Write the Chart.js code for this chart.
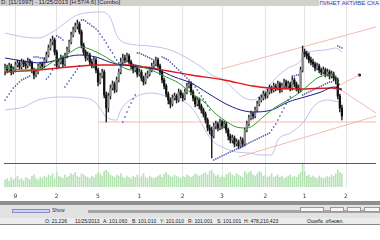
<!DOCTYPE html>
<html><head><meta charset="utf-8">
<script src="https://cdn.jsdelivr.net/npm/chart.js@4"></script>
<style>
html,body{margin:0;padding:0;background:#fff;width:380px;height:240px;overflow:hidden;font-family:"Liberation Sans",Arial,sans-serif}
#cv{position:absolute;left:0;top:0}
#hdr{position:absolute;left:0;top:0;width:380px;height:6px;background:#d4d1cb;overflow:hidden;font-size:6px;line-height:6px;white-space:nowrap}
#hdr .l{position:absolute;left:1px;top:-1px;color:#1c2040}
#hdr .r{position:absolute;right:0;top:0;height:6px;padding:0 1px;background:#f4f4fa;color:#3a46a8}
.bar{position:absolute;left:0;width:380px}
#status span{position:absolute;top:0;font-size:5px;line-height:6px;color:#222;white-space:nowrap}
.ctl{position:absolute;top:207px;height:5px;background:#f6f6f6;border:1px solid #999;box-sizing:border-box}
</style></head><body>
<canvas id="cv" width="380" height="203"></canvas>
<div id="hdr"><span class="l">D: [11/1997] - 11/25/2013 [H:57/4.6] [Combo]</span><span class="r">ПИНЕТ АКТИВЕ СХА</span></div>
<div class="bar" style="top:201px;height:4px;background:#8e8e8e"></div>
<div class="bar" style="top:205px;height:13px;background:#e2e2e2"></div>
<div style="position:absolute;left:12px;top:209px;width:38px;height:4px;background:#cfd0f4;border:1px solid #8a8cd0;box-sizing:border-box"></div>
<div style="position:absolute;left:52px;top:208px;font-size:5px;line-height:5px;color:#333">Show</div>
<div style="position:absolute;left:88px;top:210px;width:292px;height:3px;background:#a4a4a4"></div>
<div class="ctl" style="left:300px;width:24px"></div>
<div class="ctl" style="left:330px;width:14px"></div>
<div class="ctl" style="left:347px;width:14px"></div>
<div class="ctl" style="left:364px;width:16px"></div>
<div id="status" class="bar" style="top:218px;height:6px;background:#ececec;border-bottom:1px solid #888">
<span style="left:45px">O: 21.226</span><span style="left:75px">11/25/2013</span><span style="left:103px">A: 101.060</span><span style="left:132px">B: 101.010</span><span style="left:160px">Y: 101.010</span><span style="left:188px">R: 101.001</span><span style="left:217px">S: 101.001</span><span style="left:244px">H: 478,210,423</span><span style="left:307px">Ошибк. обновл.</span>
</div>
<script>
// ---- data ----
const candleOpen = [105.6,106.0,105.8,106.2,105.6,105.8,106.3,106.5,106.1,106.6,
106.4,106.2,106.7,106.5,105.8,105.3,105.6,106.2,106.4,106.2,
106.8,107.3,108.0,108.6,108.8,107.6,106.2,106.6,107.0,106.4,
107.2,107.8,108.6,109.3,109.8,110.2,110.4,109.6,108.3,107.6,
107.0,107.3,106.6,106.2,106.8,105.8,104.6,105.2,105.6,103.3,
102.0,103.2,104.0,104.4,103.8,104.8,105.6,106.6,107.0,106.8,
107.2,106.6,106.2,105.8,106.0,105.4,105.6,105.0,104.6,105.2,
105.4,105.8,106.2,106.4,106.8,106.2,105.6,104.8,104.2,103.4,
102.8,102.4,103.0,103.2,102.8,103.6,103.3,103.0,103.6,104.2,
104.4,103.6,103.0,102.4,102.8,102.2,101.8,101.4,100.8,100.0,
99.8,99.2,100.2,100.4,100.0,100.6,100.2,100.4,99.8,99.2,
98.8,99.0,98.4,98.6,98.2,98.8,98.4,99.8,100.4,101.0,
101.4,101.2,101.8,102.4,102.8,103.0,103.4,103.2,103.6,104.0,
103.8,104.2,104.0,104.4,103.8,104.2,104.6,104.2,104.4,104.0,
104.8,104.4,104.0,103.8,105.8,107.6,107.4,107.2,106.8,106.6,
106.4,106.0,106.2,105.8,105.6,105.8,105.4,105.6,105.2,105.4,
105.0,104.8,103.2,102.0];
const candleHigh = [106.4,106.3,106.5,106.4,106.1,106.6,106.8,106.7,106.9,106.8,
106.7,107.0,106.9,106.7,106.0,105.9,106.4,106.6,106.6,107.0,
107.6,108.3,108.9,109.2,109.0,107.8,106.9,107.3,107.2,107.5,
108.1,108.8,109.6,110.1,110.5,110.8,110.6,109.8,108.5,107.8,
107.6,107.5,106.9,107.1,107.0,106.0,105.5,105.9,105.8,103.6,
103.5,104.3,104.7,104.6,105.1,105.9,107.0,107.4,107.3,107.5,
107.4,106.8,106.4,106.3,106.2,105.9,105.8,105.2,105.5,105.7,
106.1,106.5,106.7,107.1,107.0,106.4,105.8,105.0,104.4,103.6,
103.0,103.3,103.5,103.4,103.9,103.8,103.5,103.9,104.5,104.7,
104.6,103.8,103.2,103.1,103.0,102.4,102.0,101.6,101.0,100.3,
100.1,100.5,100.7,100.6,100.9,100.8,100.7,100.6,100.0,99.4,
99.3,99.2,98.9,98.8,99.1,99.0,100.0,100.7,101.3,101.7,
101.6,102.1,102.7,103.1,103.3,103.7,103.6,103.9,104.3,104.2,
104.5,104.4,104.7,104.6,104.5,104.9,104.8,104.7,104.6,105.1,
105.0,104.6,104.3,106.1,108.2,107.9,107.7,107.5,107.1,106.9,
106.6,106.5,106.4,106.0,106.1,106.0,105.9,105.8,105.7,105.6,
105.2,105.0,103.4,102.3];
const candleLow = [105.3,105.5,105.6,105.3,105.4,105.6,106.1,105.9,105.9,106.1,
105.9,106.0,106.2,105.5,104.9,105.1,105.4,106.0,105.9,106.0,
106.6,107.1,107.8,108.3,107.3,105.9,106.0,106.4,106.1,106.2,
107.0,107.6,108.4,109.1,109.6,109.9,109.4,108.0,107.3,106.7,
106.8,106.3,106.0,106.0,105.5,104.2,104.4,105.0,103.0,100.6,
101.6,102.9,103.8,103.5,103.6,104.6,105.4,106.4,106.5,106.6,
106.4,105.9,105.5,105.6,105.1,105.2,104.7,104.3,104.4,105.0,
105.2,105.6,106.0,106.2,106.0,105.3,104.5,103.9,103.1,102.4,
102.0,102.2,102.8,102.5,102.6,103.0,102.7,102.8,103.4,104.0,
103.3,102.7,102.1,102.2,101.9,101.5,101.1,100.5,99.7,99.4,
97.0,99.0,99.9,99.7,99.8,99.9,100.0,99.5,98.8,98.5,
98.5,98.1,98.2,97.9,98.0,98.1,98.2,99.6,100.2,100.8,
100.9,101.0,101.6,102.2,102.6,102.8,102.9,103.0,103.4,103.5,
103.6,103.7,103.8,103.5,103.6,104.0,103.9,104.0,103.7,103.8,
104.1,103.7,103.5,103.6,105.6,107.1,106.9,106.5,106.3,106.1,
105.7,105.8,105.5,105.3,105.4,105.1,105.2,104.9,105.0,104.7,
104.4,102.9,101.6,100.8];
const candleClose = [106.0,105.8,106.2,105.6,105.8,106.3,106.5,106.1,106.6,106.4,
106.2,106.7,106.5,105.8,105.3,105.6,106.2,106.4,106.2,106.8,
107.3,108.0,108.6,108.8,107.6,106.2,106.6,107.0,106.4,107.2,
107.8,108.6,109.3,109.8,110.2,110.4,109.6,108.3,107.6,107.0,
107.3,106.6,106.2,106.8,105.8,104.6,105.2,105.6,103.3,102.0,
103.2,104.0,104.4,103.8,104.8,105.6,106.6,107.0,106.8,107.2,
106.6,106.2,105.8,106.0,105.4,105.6,105.0,104.6,105.2,105.4,
105.8,106.2,106.4,106.8,106.2,105.6,104.8,104.2,103.4,102.8,
102.4,103.0,103.2,102.8,103.6,103.3,103.0,103.6,104.2,104.4,
103.6,103.0,102.4,102.8,102.2,101.8,101.4,100.8,100.0,99.8,
99.2,100.2,100.4,100.0,100.6,100.2,100.4,99.8,99.2,98.8,
99.0,98.4,98.6,98.2,98.8,98.4,99.8,100.4,101.0,101.4,
101.2,101.8,102.4,102.8,103.0,103.4,103.2,103.6,104.0,103.8,
104.2,104.0,104.4,103.8,104.2,104.6,104.2,104.4,104.0,104.8,
104.4,104.0,103.8,105.8,107.6,107.4,107.2,106.8,106.6,106.4,
106.0,106.2,105.8,105.6,105.8,105.4,105.6,105.2,105.4,105.0,
104.8,103.2,102.0,101.2];
const volume = [6,7,5,8,6,7,9,6,7,5,8,7,6,9,10,7,6,8,7,9,
8,10,9,11,7,12,9,8,7,10,8,9,11,10,12,9,8,11,10,9,
8,7,9,8,10,12,11,9,13,14,12,10,9,8,10,9,11,8,7,9,
8,7,9,8,10,8,9,11,8,7,9,8,7,8,9,10,8,11,12,10,
9,8,10,9,8,7,9,8,10,9,8,9,11,10,9,10,11,12,10,13,
14,11,9,10,8,9,8,10,11,12,10,9,11,10,9,8,13,11,12,13,
10,9,11,13,12,9,10,8,9,11,8,9,10,8,9,7,8,9,10,8,
9,8,10,12,20,13,9,10,8,9,8,7,9,8,7,8,9,8,10,9,11,14,12,11]; // thousand lots

const maRedSlots = [0,16,31,47,61,68,79,90,106,120,128,142,158,163];
const maRed = [105.6,105.8,106.1,106.3,106.3,106.1,105.7,105.3,104.8,104.2,104.0,103.9,104.0,103.8];
const maBlueSlots = [0,17,36,44,52,61,65,74,82,90,98,106,114,120,129,137,145,153,159,163];
const maBlue = [107.0,106.5,107.3,107.1,106.5,106.2,106.1,105.8,105.1,104.5,103.5,102.5,101.8,101.6,101.8,102.6,103.1,103.6,104.1,103.9];
const maGreenSlots = [0,10,18,23,31,37,42,47,55,61,64,68,78,84,90,97,101,106,112,117,126,131,137,143,148,152,159,162];
const maGreen = [106.0,105.8,106.0,106.6,107.5,108.1,107.8,107.3,106.3,105.8,106.1,106.0,105.1,104.5,103.5,102.5,101.6,100.8,100.1,100.0,101.3,102.1,102.8,103.6,104.5,105.1,105.3,104.3];
const bbUpperSlots = [0,9,16,23,31,35,47,51,54,57,70,80,88,95,100,106,111,115,120,126,131,137,142,146,155,160,163];
const bbUpper = [109.5,109.1,109.0,109.6,110.8,111.3,111.6,111.0,109.3,108.6,108.2,107.8,107.0,106.1,105.3,104.8,103.8,103.1,102.8,103.8,105.0,106.0,106.5,107.5,107.8,108.0,107.6];
const bbLowerSlots = [0,9,16,27,39,44,49,54,56,63,71,79,90,100,106,112,118,124,129,132,138,144,150,156,163];
const bbLower = [101.8,102.1,102.8,103.1,103.0,102.5,101.1,100.8,101.8,103.1,103.5,103.1,102.1,98.8,98.0,97.6,97.5,97.3,97.3,98.8,99.5,100.5,102.3,102.8,102.5];

// parabolic SAR: each run starts at a slot
const sarStart = [0,14,20,25,29,37,57,64,76,101,139,144,161];
const sarRuns = [
 [102.8,103.1,103.4,103.7,104.0,104.2,104.4,104.6,104.8,104.9,105.0,105.1,105.2],
 [107.1,107.1,107.1,107.0,107.0,107.0],
 [104.9,105.1,105.4,105.8,106.3],
 [109.2,109.1,109.0,108.8],
 [104.1,104.4,104.7,105.0,105.3,105.6,105.9,106.2],
 [110.8,110.8,110.7,110.5,110.4,110.2,110.1,109.9,109.7,109.4,109.1,108.8,108.5,108.1,107.8,107.5,107.1,106.8,106.5,106.2],
 [100.6,101.1,101.6,102.1,102.5,102.9,103.3],
 [107.5,107.5,107.4,107.3,107.2,107.1,107.0,106.9,106.8],
 [107.1,107.0,106.9,106.8,106.6,106.4,106.2,106.0,105.8,105.6,105.4,105.2,105.0,104.8,104.6,104.4,104.1,103.8,103.5,103.2,102.9,102.6,102.2,101.8],
 [96.8,96.9,97.0,97.1,97.2,97.3,97.4,97.5,97.6,97.7,97.8,97.9,98.0,98.1,98.2,98.3,98.4,98.5,98.6,98.7,98.8,98.9,99.0,99.1,99.2,99.3,99.4,99.5,99.8,100.1,100.4,100.8,101.2,101.6,102.0,102.4,102.8,103.1],
 [105.2,105.2,105.3,105.3],
 [103.3,103.4,103.5,103.6,103.7,103.8,103.9,104.0,104.1,104.2,104.3,104.4,104.5,104.6,104.6],
 [108.2,108.1,108.0]
];

// drawn trend lines: [slotA, priceA, slotB, priceB]
const trendLines = [[45.4,100.6,179.5,100.6],[104.7,105.9,179.5,110.1],[113.2,97.1,179.5,101.2],[159.1,104.0,171.5,105.3],[159.6,104.2,179.5,101.5]];
const trendMarker = [171.5,105.3];

const tickSlots = [5,25,45,65,86,105,126,145,165];
const tickLabels = ['9','2','5','1','2','3','2','1','2'];

// ---- chart ----
const slotCount = 180;
const priceMin = 94.1, priceMax = 112.2;
const volAxisMax = 150, volumePanelTop = 20;

const pts = (xs, ys) => xs.map((x, i) => ({x, y: ys[i]}));
const wicks = candleOpen.map((o, i) => ({x: i, y: [candleLow[i], candleHigh[i]]}));
const bodies = candleOpen.map((o, i) => ({x: i, y: [o, candleClose[i]]}));
const bodyColors = candleOpen.map((o, i) => candleClose[i] < o ? '#111' : '#8a8a8a');
const sarPts = [];
sarStart.forEach((s, r) => sarRuns[r].forEach((v, k) => sarPts.push({x: s + k, y: v})));

const lineDs = (data, color, w, order) => ({type:'line', data, borderColor: color, borderWidth: w, pointRadius: 0, cubicInterpolationMode: 'monotone', fill: false, order, yAxisID: 'y'});

const datasets = [
  {type:'line', data: sarPts, showLine: false, pointRadius: 0.8, pointBorderWidth: 0, pointBackgroundColor: '#2c2c9c', order: 1, yAxisID:'y'},
  lineDs(pts(maGreenSlots, maGreen), '#2a9a2a', 1, 2),
  lineDs(pts(maBlueSlots, maBlue), '#1c1c80', 1, 3),
  lineDs(pts(maRedSlots, maRed), '#e01818', 1.3, 4),
  {type:'bar', data: bodies, backgroundColor: bodyColors, barThickness: 1.6, grouped: false, order: 6, yAxisID:'y'},
  {type:'bar', data: wicks, backgroundColor: '#222', barThickness: 0.8, grouped: false, order: 7, yAxisID:'y'},
  ...trendLines.map(t => lineDs([{x:t[0],y:t[1]},{x:t[2],y:t[3]}], '#f2a7a0', 0.8, 8)),
  {type:'line', data:[{x:trendMarker[0], y:trendMarker[1]}], showLine:false, pointRadius:1.6, pointBackgroundColor:'#111', pointBorderWidth:0, order: 8, yAxisID:'y'},
  lineDs(pts(bbUpperSlots, bbUpper), '#aeb2e6', 0.8, 9),
  lineDs(pts(bbLowerSlots, bbLower), '#aeb2e6', 0.8, 9),
  {type:'bar', data: volume.map((v, i) => ({x: i, y: v})), backgroundColor: '#b3e2b3', barThickness: 0.9, grouped: false, order: 10, yAxisID:'yv'}
];

const panelLine = {
  id: 'panelLine',
  afterDatasetsDraw(chart) {
    const ctx = chart.ctx, a = chart.chartArea;
    const y = Math.round(chart.scales.yv.getPixelForValue(volumePanelTop)) + 0.5;
    ctx.save();
    ctx.strokeStyle = '#5a5a5a'; ctx.lineWidth = 1.2;
    ctx.beginPath(); ctx.moveTo(a.left, y); ctx.lineTo(a.right, y); ctx.stroke();
    ctx.restore();
  }
};

new Chart(document.getElementById('cv'), {
  type: 'bar',
  data: { datasets },
  options: {
    responsive: false, animation: false, devicePixelRatio: 1,
    layout: { padding: { top: 6, left: 0, right: 0, bottom: 0 } },
    plugins: { legend: { display: false }, tooltip: { enabled: false } },
    scales: {
      x: {
        type: 'linear', min: -0.5, max: slotCount - 0.5, offset: false,
        afterBuildTicks: s => { s.ticks = tickSlots.map(v => ({value: v})); },
        afterFit: s => { s.height = 16; },
        ticks: { autoSkip: false, maxRotation: 0, padding: 6, color: '#444', font: { size: 6, family: 'DejaVu Sans' },
                 callback: v => { const k = tickSlots.indexOf(v); return k < 0 ? '' : tickLabels[k]; } },
        grid: { color: '#e3e3e3', lineWidth: 1, drawTicks: false, offset: false },
        border: { display: false }
      },
      y: { display: false, min: priceMin, max: priceMax },
      yv: { display: false, min: 0, max: volAxisMax }
    }
  },
  plugins: [panelLine]
});
</script>
</body></html>
